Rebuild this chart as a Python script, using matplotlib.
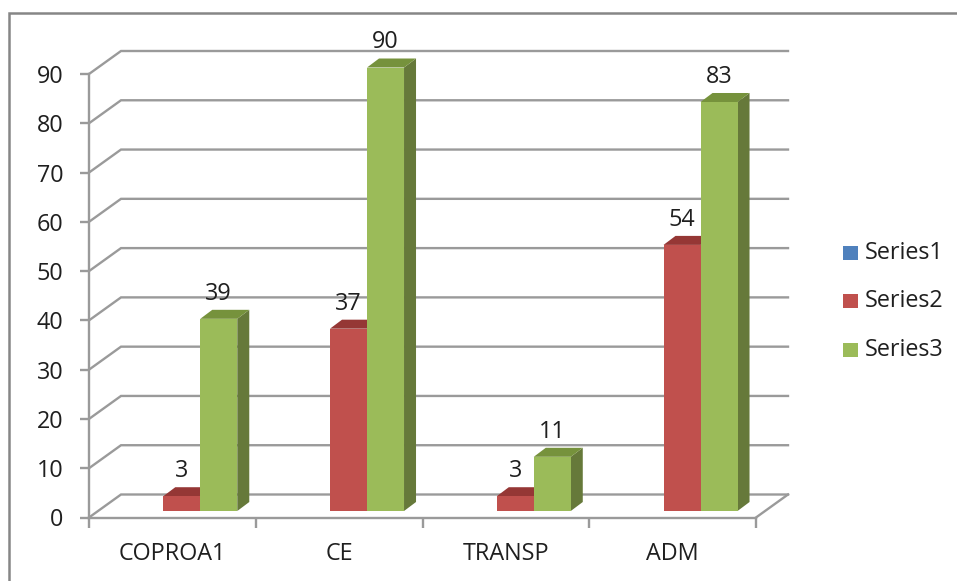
import matplotlib
matplotlib.use("Agg")
import matplotlib.pyplot as plt
from matplotlib.patches import Polygon, Rectangle

plt.rcParams['font.family'] = ['Open Sans', 'DejaVu Sans']

categories = ["COPROA1", "CE", "TRANSP", "ADM"]
series_names = ["Series1", "Series2", "Series3"]
series1 = [0, 0, 0, 0]
series2 = [3, 37, 3, 54]
series3 = [39, 90, 11, 83]
yticks = list(range(0, 100, 10))

colors = ["#4f81bd", "#c0504d", "#9bbb59"]
tops = ["#3f6797", "#953735", "#76923c"]
sides = ["#385d8a", "#8a3a38", "#66793a"]
text_col = "#1f1f1f"
line_col = "#9a9a9a"

W, H = 957, 581
fig = plt.figure(figsize=(W / 100, H / 100), dpi=100)

# plot area in pixels, y counted from the top of the image
left, right, y0, y90 = 89, 756, 517.5, 74
ax = fig.add_axes([left / W, 1 - y0 / H, (right - left) / W, (y0 - y90) / H])
ax.set_xlim(0, 4)
ax.set_ylim(0, 90)
ax.patch.set_visible(False)

# 1 data unit in pixels
ux = (right - left) / 4
uy = (y0 - y90) / 90
# oblique depth of the 3d walls and of the bars
wall_dx, wall_dy = 32 / ux, 23 / uy
bar_dx, bar_dy = 12 / ux, 9 / uy
shift_x, shift_y = 9.4 / ux, 6.5 / uy
bar_w = 37 / ux

# back wall gridlines and the oblique floor/side lines
for v in yticks:
    ax.plot([0, wall_dx, 4 + wall_dx], [v, v + wall_dy, v + wall_dy], color=line_col,
            lw=1.7, clip_on=False, zorder=1, solid_joinstyle="miter")
ax.plot([4, 4 + wall_dx], [0, wall_dy], color=line_col, lw=1.7, clip_on=False, zorder=1)

for s in ["top", "right"]:
    ax.spines[s].set_visible(False)
for s in ["left", "bottom"]:
    ax.spines[s].set_color(line_col)
    ax.spines[s].set_linewidth(1.7)
ax.set_xticks(range(5))
ax.set_xticklabels([])
ax.set_yticks(yticks)
ax.tick_params(axis="y", length=6.5, width=1.7, color=line_col, labelsize=16.8,
               labelcolor=text_col, pad=12)
ax.tick_params(axis="x", length=7, width=1.7, color=line_col)
for i, name in enumerate(categories):
    ax.text(i + 0.5, -7.5, name, ha="center", va="center", fontsize=16.8, color=text_col)

# bars sit side by side in one row, series1 is all zero so only its legend entry shows
all_series = [series1, series2, series3]
for j, vals in enumerate(all_series):
    for i, v in enumerate(vals):
        if v == 0:
            continue
        x0 = i + 0.5 + shift_x + (j - 1.5) * bar_w
        y_b = shift_y
        y_t = v + shift_y
        x1 = x0 + bar_w
        ax.add_patch(Polygon([(x1, y_b), (x1 + bar_dx, y_b + bar_dy), (x1 + bar_dx, y_t + bar_dy), (x1, y_t)],
                             fc=sides[j], ec="none", clip_on=False, zorder=3 + j))
        ax.add_patch(Polygon([(x0, y_t), (x0 + bar_dx, y_t + bar_dy), (x1 + bar_dx, y_t + bar_dy), (x1, y_t)],
                             fc=tops[j], ec="none", clip_on=False, zorder=3 + j))
        ax.bar(x0, v, bar_w, bottom=y_b, align="edge", color=colors[j], clip_on=False, zorder=3 + j)
        ax.annotate(str(v), (x0 + bar_w / 2, y_t), xytext=(0, 18), textcoords="offset points",
                    ha="center", va="center", fontsize=16.8, color=text_col, annotation_clip=False,
                    zorder=10)

# legend by hand so the swatches land where they do in the picture
fig_ax = fig.add_axes([0, 0, 1, 1], zorder=-1)
fig_ax.set_xlim(0, W)
fig_ax.set_ylim(H, 0)
fig_ax.axis("off")
fig_ax.plot([9, 9, W], [H, 13, 13], color="#868686", lw=1.8, solid_joinstyle="miter")
for name, c, y in zip(series_names, colors, [253, 301, 350]):
    fig_ax.add_patch(Rectangle((843, y - 7), 15, 14, fc=c, ec="none"))
    fig_ax.text(865, y, name, ha="left", va="center", fontsize=16.8, color=text_col)

fig.savefig("out.png", dpi=100)
